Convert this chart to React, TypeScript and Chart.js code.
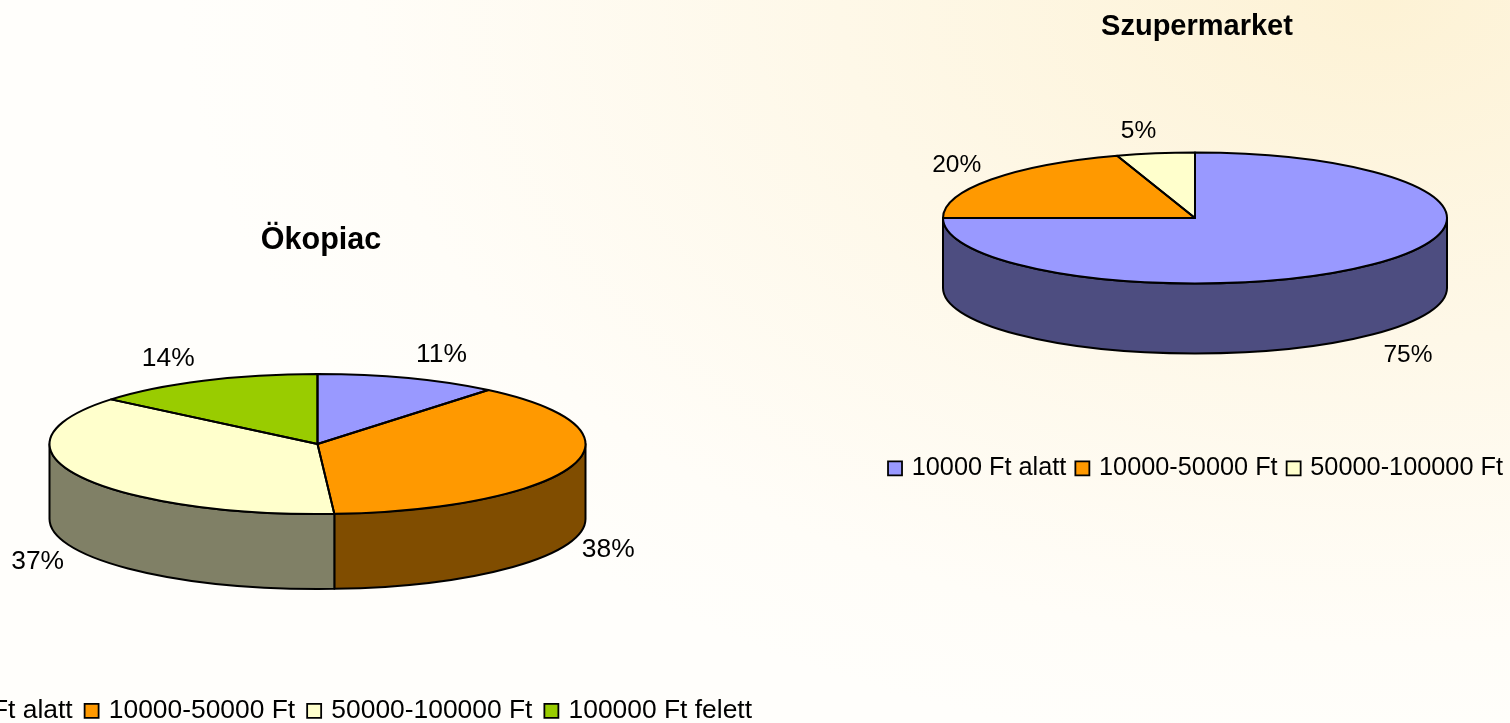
import React, { useEffect, useRef } from "react";
import { Chart, registerables } from "chart.js";

Chart.register(...registerables);

const FONT = '"Liberation Sans", Arial, sans-serif';

const okopiacCategories = ["10000 Ft alatt", "10000-50000 Ft", "50000-100000 Ft", "100000 Ft felett"];
const okopiacValues = [11, 38, 37, 14];
const okopiacColors = ["#9999FF", "#FF9900", "#FFFFCC", "#99CC00"];
const okopiacWalls = ["#4D4D80", "#804D00", "#808066", "#4D6600"];

const szupermarketCategories = ["10000 Ft alatt", "10000-50000 Ft", "50000-100000 Ft"];
const szupermarketValues = [75, 20, 5];
const szupermarketColors = ["#9999FF", "#FF9900", "#FFFFCC"];
const szupermarketWalls = ["#4D4D80", "#804D00", "#808066"];

// Tilted-disc pie: squashes the arcs into an ellipse, adds the side wall,
// outlines everything and writes the percentage labels.
const tiltedPie = {
  id: "tiltedPie",
  beforeDatasetDraw(chart: any, _args: any, opts: any) {
    const { ctx } = chart;
    const arcs = chart.getDatasetMeta(0).data;
    const first = arcs[0];
    const rx = first.outerRadius;
    const ry = opts.ry;
    const walls = chart.data.datasets[0].wallColors;

    ctx.save();
    ctx.lineWidth = opts.line;
    ctx.strokeStyle = "#000";
    ctx.lineJoin = "round";
    arcs.forEach((arc: any, i: number) => {
      const a1 = Math.max(arc.startAngle, 0);
      const a2 = Math.min(arc.endAngle, Math.PI);
      if (a2 <= a1) return;
      ctx.beginPath();
      ctx.ellipse(opts.cx, opts.cy, rx, ry, 0, a1, a2);
      ctx.ellipse(opts.cx, opts.cy + opts.depth, rx, ry, 0, a2, a1, true);
      ctx.closePath();
      ctx.fillStyle = walls[i];
      ctx.fill();
      ctx.stroke();
    });
    ctx.restore();

    ctx.save();
    ctx.translate(opts.cx, opts.cy);
    ctx.scale(1, ry / rx);
    ctx.translate(-first.x, -first.y);
  },
  afterDatasetDraw(chart: any, _args: any, opts: any) {
    const { ctx } = chart;
    ctx.restore();

    const arcs = chart.getDatasetMeta(0).data;
    const values = chart.data.datasets[0].data;
    const rx = arcs[0].outerRadius;
    const ry = opts.ry;

    ctx.save();
    ctx.lineWidth = opts.line;
    ctx.strokeStyle = "#000";
    ctx.lineJoin = "round";
    arcs.forEach((arc: any) => {
      ctx.beginPath();
      ctx.moveTo(opts.cx, opts.cy);
      ctx.ellipse(opts.cx, opts.cy, rx, ry, 0, arc.startAngle, arc.endAngle);
      ctx.closePath();
      ctx.stroke();
    });

    ctx.fillStyle = "#000";
    ctx.font = `${opts.labelSize}px ${FONT}`;
    ctx.textAlign = "center";
    ctx.textBaseline = "middle";
    arcs.forEach((arc: any, i: number) => {
      const mid = (arc.startAngle + arc.endAngle) / 2;
      const front = Math.sin(mid) > 0;
      const [nx, ny] = opts.nudges[i];
      const x = opts.cx + (rx + 45) * Math.cos(mid) + nx;
      const y = opts.cy + (ry + 27) * Math.sin(mid) + (front ? opts.depth : 0) + ny;
      ctx.fillText(`${values[i]}%`, x, y);
    });
    ctx.restore();
  },
};

function makeConfig(
  title: string,
  labels: string[],
  values: number[],
  colors: string[],
  walls: string[],
  radius: number,
  titleTop: number,
  titleSize: number,
  legendSize: number,
  legendGap: number,
  disc: any,
): any {
  return {
    type: "pie",
    plugins: [tiltedPie],
    data: {
      labels,
      datasets: [
        {
          data: values,
          backgroundColor: colors,
          wallColors: walls,
          borderWidth: 0,
          clip: false,
        },
      ],
    },
    options: {
      responsive: false,
      animation: false,
      events: [],
      radius,
      plugins: {
        tooltip: { enabled: false },
        title: {
          display: true,
          text: title,
          color: "#000",
          font: { family: FONT, size: titleSize, weight: "bold" },
          padding: { top: titleTop, bottom: 4 },
        },
        legend: {
          position: "bottom",
          labels: {
            color: "#000",
            font: { family: FONT, size: legendSize },
            usePointStyle: true,
            pointStyle: "rect",
            boxWidth: 8,
            boxHeight: 14,
            padding: legendGap,
            generateLabels(chart: any) {
              const base = (Chart as any).overrides.pie.plugins.legend.labels.generateLabels(chart);
              return base.map((item: any) => ({ ...item, pointStyle: "rect", strokeStyle: "#000", lineWidth: 1.8 }));
            },
          },
        },
        tiltedPie: disc,
      },
    },
  };
}

export default function App() {
  const leftRef = useRef<HTMLCanvasElement>(null);
  const rightRef = useRef<HTMLCanvasElement>(null);

  useEffect(() => {
    const left = new Chart(
      leftRef.current!,
      makeConfig("Ökopiac", okopiacCategories, okopiacValues, okopiacColors, okopiacWalls, 268, 222, 30.5, 26.4, 15, {
        cx: 456.5,
        cy: 444,
        ry: 70,
        depth: 75,
        line: 2,
        labelSize: 26.4,
        nudges: [[18, 2], [-7, 1], [-1, -1], [-16, 2]],
      }),
    );
    const right = new Chart(
      rightRef.current!,
      makeConfig("Szupermarket", szupermarketCategories, szupermarketValues, szupermarketColors, szupermarketWalls, 252, 10, 29, 25.3, 12, {
        cx: 335,
        cy: 218,
        ry: 65.5,
        depth: 70,
        line: 2,
        labelSize: 24.5,
        nudges: [[3, 2], [2, 2], [-10, 5]],
      }),
    );
    return () => {
      left.destroy();
      right.destroy();
    };
  }, []);

  return (
    <div
      style={{
        position: "fixed",
        left: 0,
        top: 0,
        width: 1510,
        height: 723,
        overflow: "hidden",
        background:
          "radial-gradient(ellipse 1200px 760px at 1380px 0px, #fdf2d5 0%, #fef8e8 45%, #fffdf8 85%, #fffefb 100%)",
      }}
    >
      <canvas ref={leftRef} width={920} height={734} style={{ position: "absolute", left: -139, top: 0, width: 920, height: 734 }} />
      <canvas ref={rightRef} width={674} height={491} style={{ position: "absolute", left: 860, top: 0, width: 674, height: 491 }} />
    </div>
  );
}
